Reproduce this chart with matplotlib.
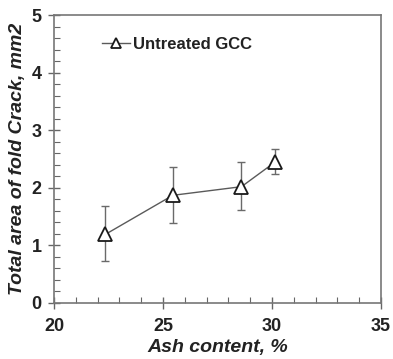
import matplotlib
matplotlib.use("Agg")
import matplotlib.pyplot as plt
from matplotlib.ticker import MultipleLocator

plt.rcParams['font.family'] = ['Liberation Sans', 'DejaVu Sans']

ash = [22.35, 25.45, 28.6, 30.15]
area = [1.19, 1.87, 2.02, 2.45]
err_low = [0.46, 0.48, 0.41, 0.21]
err_high = [0.49, 0.49, 0.42, 0.22]
series_label = "Untreated GCC"

fig = plt.figure(figsize=(3.93, 3.59), dpi=100)
ax = fig.add_axes([0.1374, 0.156, 0.832, 0.802])

ax.errorbar(ash, area, yerr=[err_low, err_high], fmt='none', ecolor='#6a6a6a',
            elinewidth=1.0, capsize=3, capthick=1.0, zorder=2)
ax.plot(ash, area, color='#5a5a5a', lw=1.0, marker='^', ms=10,
        mfc='white', mec='#1a1a1a', mew=1.3, label=series_label, zorder=3)

ax.set_xlim(20, 35)
ax.set_ylim(0, 5)
ax.xaxis.set_major_locator(MultipleLocator(5))
ax.xaxis.set_minor_locator(MultipleLocator(1))
ax.yaxis.set_major_locator(MultipleLocator(1))
ax.yaxis.set_minor_locator(MultipleLocator(0.2))
ax.tick_params(which='major', direction='inout', length=8, width=1, color='#666666',
               labelsize=13)
ax.tick_params(axis='x', which='major', pad=7)
ax.tick_params(axis='y', which='major', pad=5)
ax.tick_params(which='minor', direction='in', length=4, width=0.8, color='#666666')
for lab in ax.get_xticklabels() + ax.get_yticklabels():
    lab.set_fontweight('bold')
    lab.set_color('#222222')
for s in ax.spines.values():
    s.set_color('#777777')
    s.set_linewidth(1.2)

ax.set_xlabel('Ash content, %', fontsize=14, fontweight='bold', style='italic',
              color='#222222', labelpad=3)
ax.set_ylabel('Total area of fold Crack, mm2', fontsize=14, fontweight='bold',
              style='italic', color='#222222', labelpad=4)

leg = ax.legend(loc='upper left', bbox_to_anchor=(0.1, 0.975), frameon=False,
                prop={'weight': 'bold', 'size': 12}, handlelength=1.7,
                handletextpad=0.2, markerscale=0.75)
for t in leg.get_texts():
    t.set_color('#222222')

fig.savefig('out.png', dpi=100)
